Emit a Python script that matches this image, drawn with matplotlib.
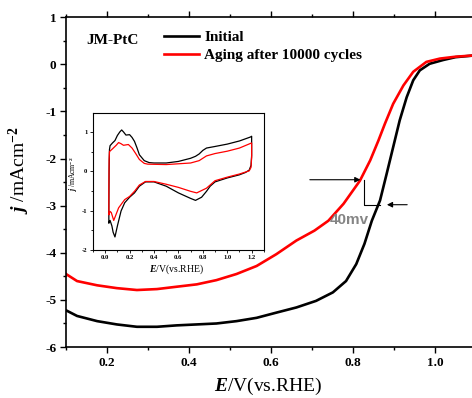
import matplotlib
matplotlib.use("Agg")
import matplotlib.pyplot as plt
from matplotlib.ticker import MultipleLocator
from matplotlib.lines import Line2D

# LSV curves (main panel)
initial_E = [0.10, 0.127, 0.176, 0.224, 0.273, 0.322, 0.37, 0.419, 0.467, 0.516,
             0.565, 0.613, 0.662, 0.71, 0.751, 0.783, 0.808, 0.828, 0.846, 0.866,
             0.882, 0.898, 0.914, 0.931, 0.947, 0.963, 0.987, 1.02, 1.05, 1.10]
initial_j = [-5.22, -5.34, -5.45, -5.52, -5.57, -5.57, -5.54, -5.52, -5.50, -5.45,
             -5.38, -5.27, -5.16, -5.02, -4.84, -4.60, -4.24, -3.81, -3.32, -2.89,
             -2.33, -1.76, -1.19, -0.70, -0.34, -0.13, 0.01, 0.09, 0.15, 0.19]

aged_E = [0.10, 0.127, 0.176, 0.224, 0.273, 0.322, 0.37, 0.419, 0.467, 0.516,
          0.565, 0.613, 0.662, 0.706, 0.74, 0.777, 0.817, 0.842, 0.862, 0.878,
          0.898, 0.923, 0.947, 0.979, 1.012, 1.05, 1.10]
aged_j = [-4.45, -4.60, -4.69, -4.75, -4.79, -4.77, -4.72, -4.67, -4.58, -4.45,
          -4.28, -4.03, -3.74, -3.53, -3.32, -2.96, -2.47, -2.04, -1.62, -1.26,
          -0.84, -0.45, -0.16, 0.05, 0.12, 0.16, 0.19]

# CV curves (inset)
cv_initial_E = [0.03, 0.03, 0.032, 0.035, 0.04, 0.06, 0.08, 0.10, 0.12, 0.135, 0.15,
                0.17, 0.20, 0.22, 0.24, 0.26, 0.28, 0.32, 0.36, 0.40, 0.50, 0.60,
                0.70, 0.74, 0.77, 0.80, 0.83, 0.90, 1.0, 1.1, 1.19, 1.2,
                1.2, 1.195, 1.18, 1.15, 1.1, 1.0, 0.9, 0.86, 0.83, 0.79, 0.74, 0.70,
                0.6, 0.5, 0.4, 0.33, 0.28, 0.24, 0.2, 0.16, 0.13, 0.10, 0.08, 0.065,
                0.055, 0.04, 0.03]
cv_initial_j = [-1.31, -0.9, 0.0, 0.55, 0.65, 0.72, 0.78, 0.91, 1.0, 1.05, 1.0,
                0.92, 0.93, 0.86, 0.76, 0.6, 0.42, 0.27, 0.22, 0.21, 0.21, 0.25,
                0.33, 0.38, 0.44, 0.53, 0.59, 0.63, 0.69, 0.77, 0.87, 0.89,
                0.4, 0.15, 0.03, -0.03, -0.09, -0.17, -0.27, -0.38, -0.51, -0.66,
                -0.74, -0.69, -0.55, -0.38, -0.27, -0.27, -0.38, -0.55, -0.66,
                -0.80, -1.01, -1.39, -1.67, -1.55, -1.39, -1.25, -1.31]

cv_aged_E = [0.03, 0.03, 0.032, 0.035, 0.06, 0.09, 0.11, 0.13, 0.15, 0.19, 0.22,
             0.25, 0.28, 0.32, 0.35, 0.5, 0.7, 0.77, 0.83, 0.9, 1.0, 1.1, 1.2,
             1.2, 1.195, 1.18, 1.15, 1.1, 1.0, 0.9, 0.83, 0.75, 0.7, 0.6, 0.5,
             0.4, 0.33, 0.28, 0.24, 0.2, 0.16, 0.11, 0.07, 0.05, 0.04, 0.03]
cv_aged_j = [-1.1, -0.5, 0.3, 0.5, 0.57, 0.66, 0.73, 0.7, 0.66, 0.68, 0.59,
             0.45, 0.30, 0.2, 0.18, 0.17, 0.21, 0.27, 0.39, 0.45, 0.51, 0.59, 0.72,
             0.35, 0.1, 0.01, -0.02, -0.07, -0.15, -0.24, -0.43, -0.55, -0.51,
             -0.41, -0.33, -0.26, -0.26, -0.35, -0.51, -0.64, -0.72, -0.93, -1.25,
             -1.05, -1.02, -1.1]

series_labels = ["Initial", "Aging after 10000 cycles"]
series_colors = ["black", "#ff0000"]

# half-wave potential marker (40 mV shift)
arrow_j_aged = -2.45
arrow_j_init = -2.98
e_half_aged = 0.828
e_half_init = 0.866

plt.rcParams["font.family"] = ["Liberation Serif", "DejaVu Serif"]
plt.rcParams["font.weight"] = "bold"
plt.rcParams["axes.unicode_minus"] = False
plt.rcParams["mathtext.fontset"] = "custom"
plt.rcParams["mathtext.rm"] = "Liberation Serif:bold"
plt.rcParams["mathtext.it"] = "Liberation Serif:italic:bold"
plt.rcParams["mathtext.bf"] = "Liberation Serif:bold"

fig = plt.figure(figsize=(4.72, 3.98), dpi=100)
ax = fig.add_axes([0.1398, 0.128, 0.8686, 0.829])

ax.plot(initial_E, initial_j, color=series_colors[0], lw=1.9)
ax.plot(aged_E, aged_j, color=series_colors[1], lw=1.9)

ax.set_xlim(0.1, 1.1)
ax.set_ylim(-6, 1)
ax.xaxis.set_major_locator(MultipleLocator(0.2))
ax.xaxis.set_minor_locator(MultipleLocator(0.1))
ax.yaxis.set_major_locator(MultipleLocator(1))
ax.yaxis.set_minor_locator(MultipleLocator(0.5))
ax.tick_params(which="both", direction="out", top=True, right=False,
               labelsize=9.5, width=1.0, pad=2.5)
ax.tick_params(which="major", length=4.5)
ax.tick_params(which="minor", length=2.5)
for s in ax.spines.values():
    s.set_linewidth(1.2)

ax.set_xlabel(r"$E$/V(vs.RHE)", fontsize=14)
ax.set_ylabel(r"$j$ /mAcm$^{-2}$", fontsize=14)
ax.xaxis.set_label_coords(0.493, -0.088)
ax.yaxis.set_label_coords(-0.083, 0.535)

ax.text(0.049, 0.928, "JM-PtC", transform=ax.transAxes, fontsize=11,
        ha="left", va="center")
handles = [Line2D([], [], color=c, lw=1.9) for c in series_colors]
ax.legend(handles, series_labels, loc="upper left", bbox_to_anchor=(0.238, 0.96),
          frameon=False, fontsize=11, handlelength=2.35, handletextpad=0.3,
          labelspacing=0.28, borderpad=0, borderaxespad=0)

# 40 mV marker
ax.annotate("", xy=(e_half_aged - 0.003, arrow_j_aged), xytext=(0.688, arrow_j_aged),
            arrowprops=dict(arrowstyle="-|>", color="black", lw=0.8, mutation_scale=8))
ax.plot([e_half_aged, e_half_aged, e_half_init],
        [arrow_j_aged, arrow_j_init, arrow_j_init], color="black", lw=0.8)
ax.annotate("", xy=(0.876, arrow_j_init), xytext=(0.939, arrow_j_init),
            arrowprops=dict(arrowstyle="-|>", color="black", lw=0.8, mutation_scale=8))
ax.text(0.744, -3.3, "40mv", fontsize=11, color="#858585", fontweight="bold",
        family="Liberation Sans", ha="left", va="center")

# inset CV
axi = fig.add_axes([0.197, 0.372, 0.362, 0.344])
axi.plot(cv_initial_E, cv_initial_j, color=series_colors[0], lw=0.9)
axi.plot(cv_aged_E, cv_aged_j, color=series_colors[1], lw=0.9)
axi.set_xlim(-0.1, 1.3)
axi.set_ylim(-2, 1.48)
axi.xaxis.set_major_locator(MultipleLocator(0.2))
axi.xaxis.set_minor_locator(MultipleLocator(0.1))
axi.yaxis.set_major_locator(MultipleLocator(1))
axi.yaxis.set_minor_locator(MultipleLocator(0.5))
axi.tick_params(which="both", direction="out", labelsize=4.8, width=0.6, pad=1.5)
axi.tick_params(which="major", length=2.5)
axi.tick_params(which="minor", length=1.5)
for s in axi.spines.values():
    s.set_linewidth(0.8)
axi.set_xlabel(r"$E$/V(vs.RHE)", fontsize=7)
axi.set_ylabel(r"$j$ /mAcm$^{-2}$", fontsize=5.5)
axi.xaxis.set_label_coords(0.49, -0.095)
axi.yaxis.set_label_coords(-0.078, 0.55)

fig.savefig("out.png", dpi=100)
